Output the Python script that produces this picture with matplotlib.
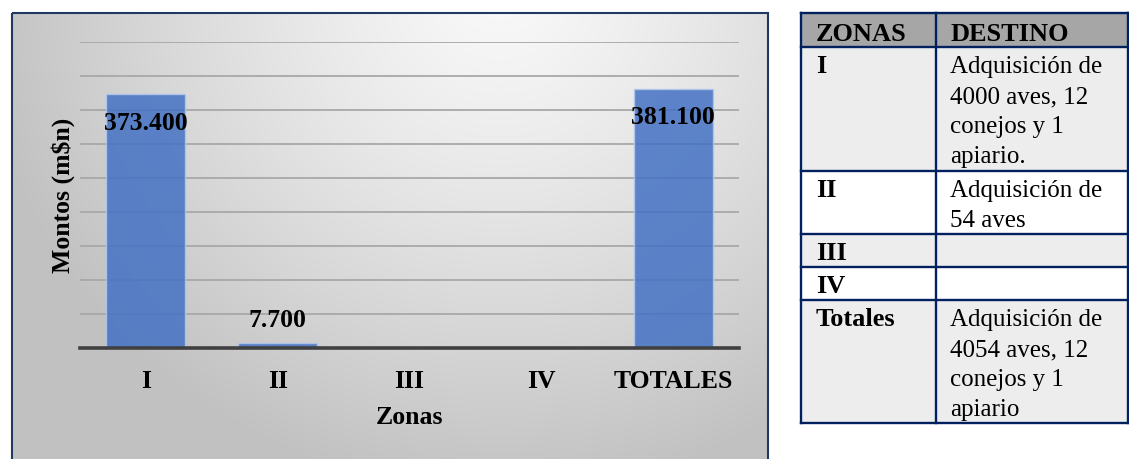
import matplotlib
matplotlib.use("Agg")
import matplotlib.pyplot as plt
import numpy as np
from matplotlib.patches import Rectangle

# ---- data ----
zonas = ["I", "II", "III", "IV", "TOTALES"]
montos = [373400, 7700, 0, 0, 381100]
y_max = 450000
y_step = 50000

tabla_encabezado = ["ZONAS", "DESTINO"]
tabla_zonas = ["I", "II", "III", "IV", "Totales"]
tabla_destino = [
    ["Adquisición de", "4000 aves, 12", "conejos y 1", "apiario."],
    ["Adquisición de", "54 aves"],
    [],
    [],
    ["Adquisición de", "4054 aves, 12", "conejos y 1", "apiario"],
]

plt.rcParams["font.family"] = ["Liberation Serif", "DejaVu Serif"]

W, H = 1129, 459
fig = plt.figure(figsize=(W / 100, H / 100), dpi=100)
fig.patch.set_facecolor("white")

# full-figure canvas in pixel units (origin top-left)
bg = fig.add_axes([0, 0, 1, 1], zorder=0)
bg.axis("off")

# chart area with a soft radial gray gradient
cx0, cx1, cy0, cy1 = 12, 768, 13, 475
gx, gy = np.meshgrid(np.arange(cx0, cx1), np.arange(cy0, cy1))
r = np.sqrt(((gx - 500) / 520.0) ** 2 + ((gy + 10) / 500.0) ** 2)
v = 0.975 - 0.215 * np.clip(r, 0, 1) ** 1.25
img = np.dstack([v, v, v])
bg.imshow(img, extent=(cx0, cx1, cy1, cy0), origin="upper", aspect="auto",
          interpolation="bilinear", zorder=0)
bg.add_patch(Rectangle((cx0, cy0), cx1 - cx0, cy1 - cy0, fill=False,
                       edgecolor="#1f3864", linewidth=1.5, zorder=2))

# ---- table ----
row_y = [13, 47, 171, 234, 267, 300, 423]
col_x = [801, 936, 1128]
fills = ["#a6a6a6", "#ededed", "white", "#ededed", "white", "#ededed"]
for i, fc in enumerate(fills):
    bg.add_patch(Rectangle((col_x[0], row_y[i]), col_x[2] - col_x[0],
                           row_y[i + 1] - row_y[i], facecolor=fc,
                           edgecolor="none", zorder=1))
border = "#002060"
for yy in row_y:
    bg.plot([col_x[0], col_x[2]], [yy, yy], color=border, lw=1.7,
            solid_capstyle="projecting", zorder=3)
for xx in col_x:
    bg.plot([xx, xx], [row_y[0], row_y[-1]], color=border, lw=1.7,
            solid_capstyle="projecting", zorder=3)

pad_x = 15
line_h = 30
bg.text(col_x[0] + pad_x, row_y[0] + 28, tabla_encabezado[0], fontsize=19,
        fontweight="bold", va="baseline", ha="left", zorder=4)
bg.text(col_x[1] + pad_x, row_y[0] + 28, tabla_encabezado[1], fontsize=19,
        fontweight="bold", va="baseline", ha="left", zorder=4)
for i, (zona, lineas) in enumerate(zip(tabla_zonas, tabla_destino)):
    top = row_y[i + 1]
    bg.text(col_x[0] + pad_x, top + 26, zona, fontsize=19, fontweight="bold",
            va="baseline", ha="left", zorder=4)
    for k, linea in enumerate(lineas):
        bg.text(col_x[1] + 14, top + 26 + k * line_h, linea, fontsize=18,
                va="baseline", ha="left", zorder=4)

bg.set_xlim(0, W)
bg.set_ylim(H, 0)

# ---- bar chart ----
ax = fig.add_axes([80 / W, (H - 348) / H, 659 / W, 306 / H], zorder=1)
ax.patch.set_alpha(0)
x = np.arange(len(zonas))
ax.bar(x, montos, width=0.6, color="#4472C4", alpha=0.85,
       edgecolor="#b4c8ec", linewidth=1.0, zorder=3)

ax.set_xlim(-0.5, len(zonas) - 0.5)
ax.set_ylim(0, y_max)
ax.set_yticks(np.arange(0, y_max + 1, y_step))
ax.tick_params(axis="y", length=0, labelleft=False)
ax.yaxis.grid(True, color="#a8a8a8", linewidth=1.3)
ax.set_axisbelow(True)
for s in ("top", "left", "right"):
    ax.spines[s].set_visible(False)
ax.spines["bottom"].set_color("#404040")
ax.spines["bottom"].set_linewidth(2.6)
ax.spines["bottom"].set_zorder(4)

ax.set_xticks(x, zonas)
ax.tick_params(axis="x", length=0, pad=16, labelsize=18.5)
for t in ax.get_xticklabels():
    t.set_fontweight("bold")

ax.set_xlabel("Zonas", fontsize=18.5, fontweight="bold", va="center")
ax.xaxis.set_label_coords(0.5, (348 - 417) / 306)
ax.set_ylabel("Montos (m$n)", fontsize=18.5, fontweight="bold",
              va="center", ha="center")
ax.yaxis.set_label_coords((63 - 80) / 659, 0.5)

for xi, val in zip(x, montos):
    if val <= 0:
        continue
    texto = f"{val:,}".replace(",", ".")
    if val > 0.1 * y_max:
        off = -29 * 0.72
    else:
        off = 22 * 0.72
    ax.annotate(texto, (xi, val), xytext=(0, off), textcoords="offset points",
                ha="center", va="center", fontsize=18.5, fontweight="bold",
                zorder=5)

fig.savefig("out.png", dpi=100)
